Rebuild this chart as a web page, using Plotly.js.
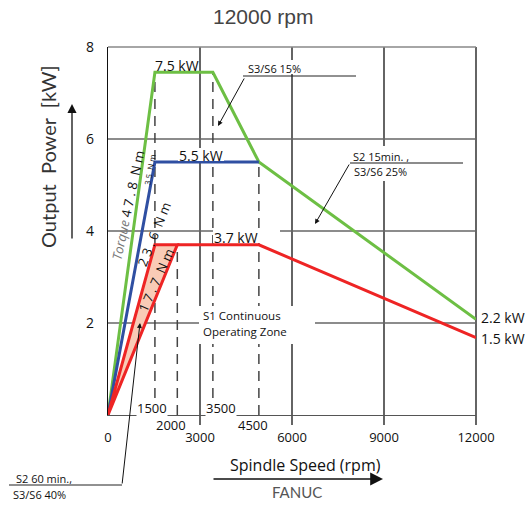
<!DOCTYPE html>
<html><head><meta charset="utf-8">
<script src="https://cdn.plot.ly/plotly-3.0.1.min.js"></script>
<style>html,body{margin:0;padding:0;background:#fff}#chart{width:526px;height:505px}</style>
</head><body><div id="chart"></div>
<script>
// Curve corners as drawn (speed in rpm, power in kW)
const speedS3_15 = [0, 1530, 3420, 4920, 12000];
const powerS3_15 = [0, 7.45, 7.45, 5.5, 2.08];
const speedS2_15 = [0, 1530, 4920];
const powerS2_15 = [0, 5.5, 5.5];
const speedS2_60 = [0, 1530, 2260, 0];
const powerS2_60 = [0, 3.7, 3.7, 0];
const speedS1 = [2260, 4920, 12000];
const powerS1 = [3.7, 3.7, 1.68];
const dashSpeeds = [1530, 2260, 3420, 4920];
const dashTops = [7.45, 3.7, 7.45, 5.5];
const xTickVals = [0, 3000, 6000, 9000, 12000];
const xTickText = ['0', '3000', '6000', '9000', '12000'];
const yTickVals = [2, 4, 6, 8];
const yTickText = ['2', '4', '6', '8'];
const xMax = 12000, yMax = 8;

const L = 108, T = 47, W = 368, H = 368;
const PX = p => (p - L) / W;
const PY = p => (T + H - p) / H;

const GREEN = '#6dbf44', BLUE = '#2f4fa2', RED = '#ee2424', FILL = '#f9cbb6';

const dx = [], dy = [];
dashSpeeds.forEach((s, i) => { dx.push(s, s, null); dy.push(0, dashTops[i], null); });

const traces = [
  {x: dx, y: dy, mode: 'lines', line: {color: '#444', width: 1.5, dash: '10px,7px'}, hoverinfo: 'skip'},
  {x: speedS3_15, y: powerS3_15, mode: 'lines', line: {color: GREEN, width: 3}, hoverinfo: 'skip'},
  {x: speedS2_15, y: powerS2_15, mode: 'lines', line: {color: BLUE, width: 3}, hoverinfo: 'skip'},
  {x: speedS2_60, y: powerS2_60, mode: 'lines', fill: 'toself', fillcolor: FILL, line: {color: RED, width: 3}, hoverinfo: 'skip'},
  {x: speedS1, y: powerS1, mode: 'lines', line: {color: RED, width: 3}, hoverinfo: 'skip'}
];

const shapes = [];
xTickVals.slice(1).forEach(v => shapes.push({type: 'line', xref: 'paper', yref: 'paper', x0: v / xMax, x1: v / xMax, y0: PY(425), y1: 1, line: {color: '#111', width: 1.3}, layer: 'below'}));
yTickVals.forEach(v => shapes.push({type: 'line', xref: 'paper', yref: 'paper', x0: 0, x1: 1, y0: v / yMax, y1: v / yMax, line: {color: v === 8 ? '#888' : '#666', width: 1.3}, layer: 'below'}));
function box(x0, y0, x1, y1) { shapes.push({type: 'rect', xref: 'paper', yref: 'paper', x0: PX(x0), x1: PX(x1), y0: PY(y1), y1: PY(y0), fillcolor: '#fff', line: {width: 0}, layer: 'above'}); }
function seg(x0, y0, x1, y1, c, w) { shapes.push({type: 'line', xref: 'paper', yref: 'paper', x0: PX(x0), x1: PX(x1), y0: PY(y0), y1: PY(y1), line: {color: c, width: w}, layer: 'above'}); }
box(178, 148, 224, 161);
box(213, 229, 280, 243);
box(244, 60, 302, 74);
box(350, 146, 410, 181);
box(199, 306, 315, 344);
seg(243, 76, 356, 76, '#222', 1);
seg(350, 163, 463, 163, '#666', 1.5);
seg(9, 485, 122, 485, '#222', 1);

const F = 'Open Sans, sans-serif';
const ann = [];
function txt(x, y, text, size, opt) {
  ann.push(Object.assign({xref: 'paper', yref: 'paper', x: PX(x), y: PY(y), text: text, showarrow: false,
    xanchor: 'center', yanchor: 'middle', font: {family: F, size: size, color: '#111'}}, opt || {}));
}
function arrow(tx, ty, sx, sy, size, w) {
  ann.push({xref: 'paper', yref: 'paper', x: PX(tx), y: PY(ty), ax: sx - tx, ay: sy - ty, text: '', showarrow: true,
    arrowhead: 2, arrowsize: size, arrowwidth: w, arrowcolor: '#111', standoff: 0, font: {size: 1}});
}
txt(263, 17, '12000 rpm', 21, {font: {family: 'Liberation Sans, sans-serif', size: 21, color: '#444'}});
txt(48, 157, 'Output&nbsp; Power&nbsp; [kW]', 20, {textangle: -90, font: {family: 'Lato, sans-serif', size: 20, color: '#333'}});
txt(305, 465, 'Spindle Speed (rpm)', 16);
txt(297, 492, 'FANUC', 15, {font: {family: 'Lato, sans-serif', size: 15, color: '#555'}});
txt(177, 66, '7.5 kW', 14);
txt(201, 155, '5.5 kW', 14);
txt(236, 237, '3.7 kW', 14);
txt(479, 317, '2.2 kW', 14, {xanchor: 'left'});
txt(479, 338, '1.5 kW', 14, {xanchor: 'left'});
txt(246, 68, 'S3/S6 15%', 11, {xanchor: 'left'});
txt(351, 156, 'S2 15min. ,', 11, {xanchor: 'left'});
txt(352, 171, 'S3/S6 25%', 11, {xanchor: 'left'});
txt(201, 315, 'S1 Continuous', 11.5, {xanchor: 'left'});
txt(201, 331, 'Operating Zone', 11.5, {xanchor: 'left'});
txt(14, 478, 'S2 60 min.,', 11, {xanchor: 'left'});
txt(11, 494, 'S3/S6 40%', 11, {xanchor: 'left'});
txt(152, 408, '1500', 13, {bgcolor: '#fff', borderpad: 0});
txt(221, 408, '3500', 13, {bgcolor: '#fff', borderpad: 0});
txt(171, 425, '2000', 13);
txt(253, 425, '4500', 13);
txt(128, 205, '<i style="color:#777">Torque</i> 4 7 . 8&nbsp;&nbsp;N m', 13, {textangle: -78});
txt(149, 170, '3 5&nbsp; N m', 8, {textangle: -80});
txt(154, 234, '2 3 . 6&nbsp; N m', 13, {textangle: -68});
txt(156, 280, '1 7 . 7&nbsp; N m', 13, {textangle: -66});
arrow(218, 126, 245, 77, 1, 1);
arrow(315, 224, 350, 163, 1, 1);
arrow(140, 323, 122, 485, 1, 1);
arrow(72, 104, 72, 240, 1.4, 1.3);
arrow(383, 479, 212, 479, 1.6, 1.6);

const layout = {
  width: 526, height: 505,
  margin: {l: L, r: 526 - L - W, t: T, b: 505 - T - H},
  paper_bgcolor: '#fff', plot_bgcolor: '#fff',
  showlegend: false, hovermode: false,
  xaxis: {range: [0, xMax], tickvals: xTickVals, ticktext: xTickText, showgrid: false, zeroline: false,
    showline: true, linecolor: '#555', linewidth: 1.3, ticks: 'outside', ticklen: 10, tickcolor: 'rgba(0,0,0,0)',
    tickfont: {family: F, size: 13, color: '#111'}, fixedrange: true},
  yaxis: {range: [0, yMax], tickvals: yTickVals, ticktext: yTickText, showgrid: false, zeroline: false,
    showline: true, linecolor: '#111', linewidth: 1.3, ticks: 'outside', ticklen: 10, tickcolor: 'rgba(0,0,0,0)',
    tickfont: {family: F, size: 14, color: '#111'}, fixedrange: true},
  shapes: shapes, annotations: ann
};
Plotly.newPlot('chart', traces, layout, {displayModeBar: false, staticPlot: true});
</script></body></html>
